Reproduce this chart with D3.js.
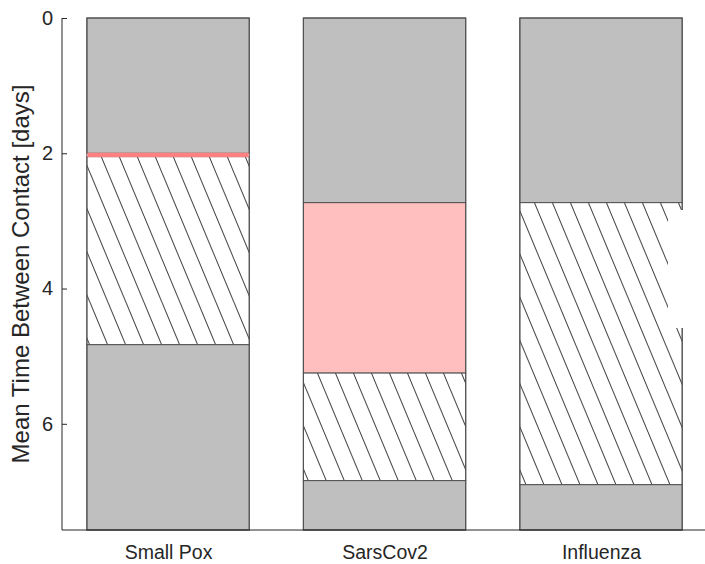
<!DOCTYPE html>
<html>
<head>
<meta charset="utf-8">
<script src="https://cdn.jsdelivr.net/npm/d3@7"></script>
<style>
  html, body { margin: 0; padding: 0; background: #ffffff; }
  svg { display: block; }
  text { font-family: "Liberation Sans", Arial, Helvetica, sans-serif; fill: #262626; }
</style>
</head>
<body>
<script>
// ---- data ----
const categories = ["Small Pox", "SarsCov2", "Influenza"];
// segment lengths (days), stacked from 0 downward
const earlyGray = [2.00, 2.73, 2.73];
const redSeg    = [0.05, 2.52, 0.00];
const hatched   = [2.78, 1.59, 4.17];
const yMax = 7.57;
const yTicks = [0, 2, 4, 6];
const yLabel = "Mean Time Between Contact [days]";

// ---- layout ----
const W = 705, H = 564;
const svg = d3.select("body").append("svg").attr("width", W).attr("height", H);

const y = d3.scaleLinear().domain([0, yMax]).range([18, 530]);
const x = d3.scaleLinear().domain([0.51, 3.5]).range([62, 709.25]);
const barW = 0.75;

const colors = { earlyGray: "#bfbfbf", red: "#ffbfbf", hatched: "url(#hatch)", lateGray: "#bfbfbf" };

// hatch pattern
const defs = svg.append("defs");
const pat = defs.append("pattern").attr("id", "hatch")
  .attr("patternUnits", "userSpaceOnUse")
  .attr("width", 18).attr("height", 43.2);
pat.append("rect").attr("width", 18).attr("height", 43.2).attr("fill", "#ffffff");
pat.append("path").attr("d", "M-18,0 L0,43.2 M0,0 L18,43.2 M18,0 L36,43.2")
  .attr("stroke", "#3a3a3a").attr("stroke-width", 1).attr("fill", "none");

// build stacked rows
const rows = categories.map((c, i) => {
  const a = earlyGray[i], b = a + redSeg[i], h = b + hatched[i];
  return { cat: c, idx: i + 1, segs: [
    { key: "earlyGray", y0: 0, y1: a },
    { key: "red", y0: a, y1: b },
    { key: "hatched", y0: b, y1: h },
    { key: "lateGray", y0: h, y1: yMax }
  ]};
});

const g = svg.append("g");
const thinSegs = [];
rows.forEach(r => {
  const x0 = x(r.idx - barW / 2), x1 = x(r.idx + barW / 2);
  r.segs.forEach(s => {
    if (s.y1 - s.y0 <= 0) return;
    const hpx = y(s.y1) - y(s.y0);
    if (hpx < 6) { thinSegs.push({ x0, x1, s }); return; }
    g.append("rect")
      .attr("x", x0).attr("y", y(s.y0))
      .attr("width", x1 - x0).attr("height", hpx)
      .attr("fill", colors[s.key])
      .attr("stroke", "#505050")
      .attr("stroke-width", 1);
  });
  // outer edges
  g.append("rect").attr("x", x0).attr("y", y(0)).attr("width", x1 - x0)
    .attr("height", y(yMax) - y(0)).attr("fill", "none")
    .attr("stroke", "#505050").attr("stroke-width", 1);
});
// thin red segment drawn on top (covers neighbouring edges)
thinSegs.forEach(t => {
  g.append("rect")
    .attr("x", t.x0 + 0.5).attr("y", y(t.s.y0) - 0.5)
    .attr("width", t.x1 - t.x0 - 1).attr("height", y(t.s.y1) - y(t.s.y0) + 1)
    .attr("fill", "#ff8080");
});

// blank (empty legend) area
svg.append("rect").attr("x", 668).attr("y", 210).attr("width", 37).attr("height", 118).attr("fill", "#ffffff");

// axes
const axisColor = "#262626";
svg.append("line").attr("x1", 62).attr("x2", 62).attr("y1", y(0)).attr("y2", y(yMax))
  .attr("stroke", axisColor).attr("stroke-width", 1);
svg.append("line").attr("x1", 62).attr("x2", W).attr("y1", y(yMax)).attr("y2", y(yMax))
  .attr("stroke", axisColor).attr("stroke-width", 1);

const yAxis = d3.axisLeft(y).tickValues(yTicks).tickFormat(d3.format("d")).tickSizeInner(-5).tickSizeOuter(0).tickPadding(9);
const ya = svg.append("g").attr("transform", "translate(62,0)").call(yAxis);
ya.select(".domain").remove();
ya.selectAll(".tick line").attr("stroke", axisColor);
ya.selectAll(".tick text").attr("font-size", 20).attr("fill", axisColor)
  .style("font-family", '"Liberation Sans", Arial, sans-serif');

const xAxis = d3.axisBottom(x).tickValues([1, 2, 3]).tickFormat(d => categories[d - 1]).tickSize(0).tickPadding(15);
const xa = svg.append("g").attr("transform", `translate(0,${y(yMax)})`).call(xAxis);
xa.select(".domain").remove();
xa.selectAll(".tick text").attr("font-size", 19.5).attr("fill", axisColor)
  .style("font-family", '"Liberation Sans", Arial, sans-serif');

svg.append("text")
  .attr("transform", `translate(29,${(y(0) + y(yMax)) / 2}) rotate(-90)`)
  .attr("text-anchor", "middle")
  .attr("font-size", 24)
  .text(yLabel);
</script>
</body>
</html>
